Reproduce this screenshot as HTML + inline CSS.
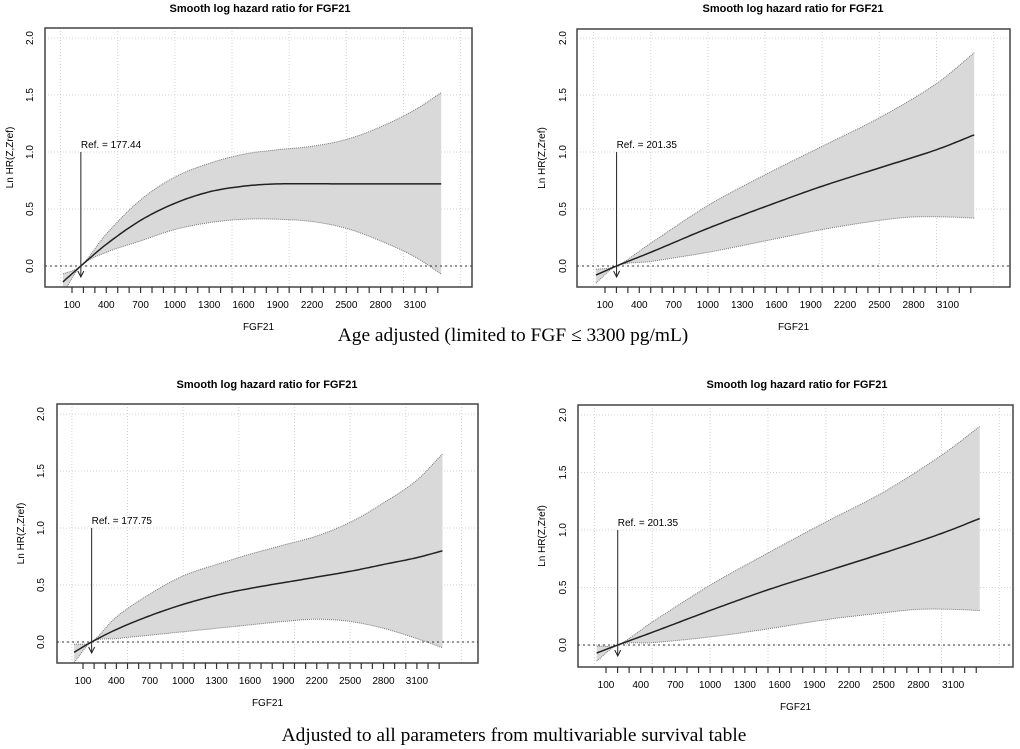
<!DOCTYPE html>
<html><head><meta charset="utf-8"><style>
html,body{margin:0;padding:0;background:#fff;width:1020px;height:749px;overflow:hidden}
svg{display:block}
</style></head><body>
<svg id="s" width="1020" height="749" xmlns="http://www.w3.org/2000/svg" font-family="Liberation Sans, Arial, sans-serif">
<text x="513" y="341" font-family="Liberation Serif, serif" font-size="19.4" text-anchor="middle">Age adjusted (limited to FGF ≤ 3300 pg/mL)</text>
<text x="514" y="741" font-family="Liberation Serif, serif" font-size="19.4" text-anchor="middle">Adjusted to all parameters from multivariable survival table</text>
</svg>
<script>
var S=document.getElementById('s'),NS='http://www.w3.org/2000/svg';
function el(t,a,txt){var e=document.createElementNS(NS,t);for(var k in a)e.setAttribute(k,a[k]);if(txt!==undefined)e.textContent=txt;S.appendChild(e);return e;}
function interp(pts,x){
 var i=0;while(i<pts.length-2&&x>pts[i+1][0])i++;
 var p0=pts[Math.max(i-1,0)],p1=pts[i],p2=pts[i+1],p3=pts[Math.min(i+2,pts.length-1)];
 var t=(x-p1[0])/(p2[0]-p1[0]);
 var m1=(p2[1]-p0[1])/(p2[0]-p0[0])*(p2[0]-p1[0]),m2=(p3[1]-p1[1])/(p3[0]-p1[0])*(p2[0]-p1[0]);
 var t2=t*t,t3=t2*t;
 return (2*t3-3*t2+1)*p1[1]+(t3-2*t2+t)*m1+(-2*t3+3*t2)*p2[1]+(t3-t2)*m2;
}
var cid=0;
function panel(P){
 var X=function(v){return P.x100+(v-100)*P.sx;},Y=function(v){return P.y0-(v)*P.sy;};
 cid++;
 el('clipPath',{id:'c'+cid}).appendChild((function(){var r=document.createElementNS(NS,'rect');r.setAttribute('x',P.l);r.setAttribute('y',P.t);r.setAttribute('width',P.r-P.l);r.setAttribute('height',P.b-P.t);return r;})());
 for(var g=0;g<=3500;g+=500)el('line',{x1:X(g),x2:X(g),y1:P.t,y2:P.b,stroke:'#d3d3d3','stroke-dasharray':'1,2','stroke-width':1});
 for(var h=0;h<=2;h+=0.5)el('line',{x1:P.l,x2:P.r,y1:Y(h),y2:Y(h),stroke:'#d3d3d3','stroke-dasharray':'1,2','stroke-width':1});
 var mn='',x0=P.xs,x1=3330,n=120;
 var U=[],L=[];
 for(var i=0;i<=n;i++){var x=x0+(x1-x0)*i/n;U.push(X(x).toFixed(1)+','+Y(interp(P.u,x)).toFixed(1));L.push(X(x).toFixed(1)+','+Y(interp(P.lo,x)).toFixed(1));mn+=(i?'L':'M')+X(x).toFixed(1)+','+Y(interp(P.m,x)).toFixed(1);}
 el('path',{d:'M'+U.join('L')+'L'+L.slice().reverse().join('L')+'Z',fill:'#d9d9d9',stroke:'none','clip-path':'url(#c'+cid+')'});
 el('path',{d:'M'+U.join('L'),fill:'none',stroke:'#777','stroke-dasharray':'1,1','stroke-width':1,'clip-path':'url(#c'+cid+')'});
 el('path',{d:'M'+L.join('L'),fill:'none',stroke:'#777','stroke-dasharray':'1,1','stroke-width':1,'clip-path':'url(#c'+cid+')'});
 el('path',{d:mn,fill:'none',stroke:'#222','stroke-width':1.5,'clip-path':'url(#c'+cid+')'});
 el('line',{x1:P.l,x2:P.r,y1:Y(0),y2:Y(0),stroke:'#333','stroke-dasharray':'2,3','stroke-width':1});
 var rx=X(P.ref);
 el('line',{x1:rx,x2:rx,y1:Y(1),y2:Y(0)+10,stroke:'#222','stroke-width':1});
 el('path',{d:'M'+(rx-3)+','+(Y(0)+5)+'L'+rx+','+(Y(0)+11)+'L'+(rx+3)+','+(Y(0)+5),fill:'none',stroke:'#222','stroke-width':1});
 el('text',{x:rx,y:Y(1)-4,'font-size':10},'Ref. = '+P.reft);
 el('rect',{x:P.l,y:P.t,width:P.r-P.l,height:P.b-P.t,fill:'none',stroke:'#444','stroke-width':1.5});
 for(var v=100;v<=3300;v+=100)el('line',{x1:X(v),x2:X(v),y1:P.b,y2:P.b+6,stroke:'#333','stroke-width':1.2});
 for(var v=100;v<=3100;v+=300)el('text',{x:X(v),y:P.b+21,'font-size':10,'text-anchor':'middle'},String(v));
 ['0.0','0.5','1.0','1.5','2.0'].forEach(function(s,k){var yy=Y(k*0.5);el('text',{x:P.yt,y:yy,'font-size':10,'text-anchor':'middle',transform:'rotate(-90 '+P.yt+' '+yy+')'},s);});
 el('text',{x:P.yl,y:(P.t+P.b)/2,'font-size':10,'text-anchor':'middle',transform:'rotate(-90 '+P.yl+' '+(P.t+P.b)/2+')'},'Ln HR(Z,Zref)');
 el('text',{x:P.tx,y:P.ty,'font-size':11,'font-weight':'bold','text-anchor':'middle'},'Smooth log hazard ratio for FGF21');
 el('text',{x:(P.l+P.r)/2,y:P.fy,'font-size':10,'text-anchor':'middle'},'FGF21');
}
panel({l:45,t:28,r:472,b:287,x100:72,sx:0.1143,y0:266,sy:114,xs:20,ref:177.44,reft:'177.44',yt:33,yl:13,tx:260,ty:12,fy:330,
 m:[[20,-0.14],[177,0],[400,0.19],[700,0.4],[1000,0.55],[1300,0.65],[1600,0.7],[1900,0.72],[2500,0.72],[3330,0.72]],
 u:[[20,-0.07],[177,0],[400,0.28],[700,0.58],[1000,0.78],[1300,0.9],[1600,0.98],[1900,1.02],[2200,1.05],[2500,1.11],[2800,1.22],[3100,1.37],[3330,1.52]],
 lo:[[20,-0.24],[177,0],[400,0.12],[700,0.22],[1000,0.32],[1300,0.38],[1600,0.41],[1900,0.41],[2200,0.39],[2500,0.33],[2800,0.22],[3100,0.08],[3330,-0.07]]});
panel({l:577,t:29,r:1010,b:287,x100:605,sx:0.1143,y0:266,sy:114,xs:20,ref:201.35,reft:'201.35',yt:566,yl:545,tx:793,ty:12,fy:330,
 m:[[20,-0.08],[201,0],[500,0.12],[1000,0.33],[1500,0.52],[2000,0.7],[2500,0.86],[3000,1.02],[3330,1.15]],
 u:[[20,-0.03],[201,0],[500,0.2],[1000,0.53],[1500,0.8],[2000,1.05],[2500,1.3],[3000,1.6],[3330,1.87]],
 lo:[[20,-0.15],[201,0],[500,0.04],[1000,0.12],[1500,0.22],[2000,0.32],[2500,0.4],[2800,0.43],[3100,0.43],[3330,0.42]]});
panel({l:57,t:404,r:478,b:663,x100:83,sx:0.1113,y0:642,sy:114,xs:20,ref:177.75,reft:'177.75',yt:44,yl:24,tx:267,ty:388,fy:706,
 m:[[20,-0.09],[177,0],[400,0.11],[700,0.23],[1000,0.33],[1300,0.41],[1600,0.47],[1900,0.52],[2200,0.57],[2500,0.62],[2800,0.68],[3100,0.74],[3330,0.8]],
 u:[[20,-0.02],[177,0],[400,0.22],[700,0.42],[1000,0.58],[1300,0.68],[1600,0.77],[1900,0.85],[2200,0.93],[2500,1.05],[2800,1.22],[3100,1.42],[3330,1.65]],
 lo:[[20,-0.18],[177,0],[400,0.03],[700,0.06],[1000,0.09],[1300,0.12],[1600,0.15],[1900,0.18],[2200,0.2],[2500,0.18],[2800,0.12],[3100,0.03],[3330,-0.05]]});
panel({l:578,t:405,r:1013,b:667,x100:606,sx:0.1157,y0:645,sy:115,xs:20,ref:201.35,reft:'201.35',yt:566,yl:545,tx:797,ty:388,fy:710,
 m:[[20,-0.07],[201,0],[500,0.11],[1000,0.3],[1500,0.48],[2000,0.64],[2500,0.8],[3000,0.97],[3330,1.1]],
 u:[[20,-0.01],[201,0],[500,0.2],[1000,0.52],[1500,0.8],[2000,1.07],[2500,1.33],[3000,1.65],[3330,1.9]],
 lo:[[20,-0.14],[201,0],[500,0.02],[1000,0.07],[1500,0.14],[2000,0.22],[2500,0.28],[2800,0.31],[3100,0.31],[3330,0.3]]});
</script>
</body></html>
